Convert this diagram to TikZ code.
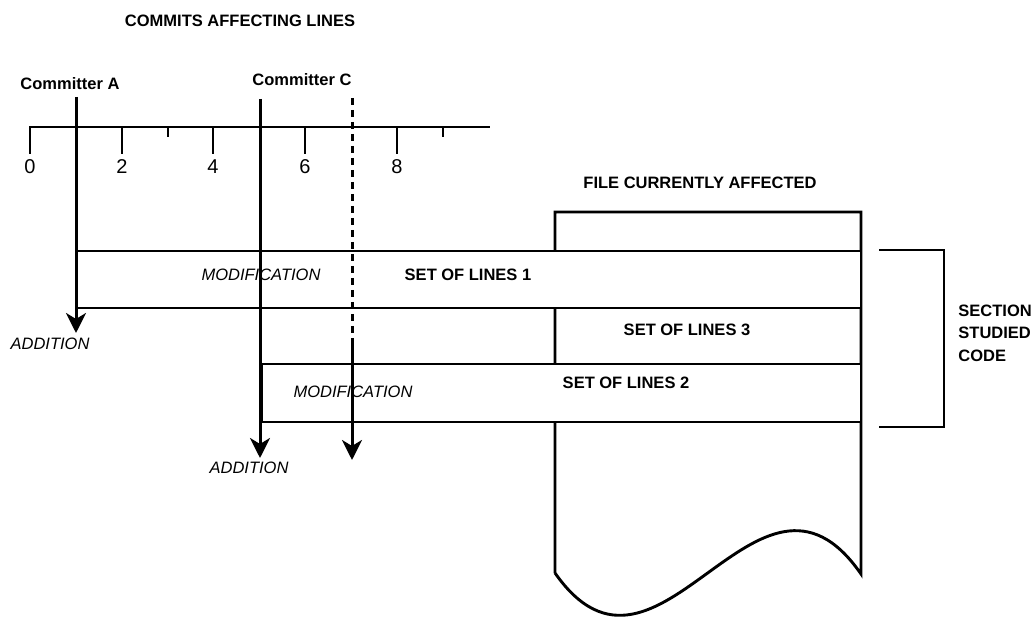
\documentclass[tikz,border=0pt]{standalone}
\usepackage{fontspec}
\setmainfont{Liberation Sans}
\usetikzlibrary{arrows.meta}

\tikzset{
  caps/.style={font=\bfseries\fontsize{16.5}{22.5}\selectfont, inner sep=0pt},
  note/.style={font=\itshape\fontsize{16.5}{20}\selectfont, inner sep=0pt},
  num/.style={font=\fontsize{20}{22}\selectfont, inner sep=0pt},
  commit/.style={line width=3pt, -{Stealth[length=20pt,width=20pt,inset=6pt]}}
}

\begin{document}
\begin{tikzpicture}[x=1pt, y=-1pt, line width=2.9pt]
    \useasboundingbox (0,0) rectangle (1034,617);

    % time axis
    \draw (30,154) -- (30,127) -- (490,127);
    \foreach \t in {122,213,305,397} \draw (\t,127) -- (\t,154);
    \foreach \t in {168,443} \draw (\t,127) -- (\t,137);
    \foreach \t/\v in {30/0,122/2,213/4,305/6,397/8}
        \node[num] (n\v) at (\t,167) {\v};

    % file and sets of lines
    \draw[fill=white] (555,573) -- (555,212) -- (861,212) -- (861,574)
        .. controls (758,425) and (658,720) .. (555,573);
    \draw[fill=white] (76,251) rectangle (861,308);
    \draw[fill=white] (262,364) rectangle (861,422);
    \draw (879,250) -- (944,250) -- (944,427) -- (879,427);

    \node[caps] (title) at (240,21) {COMMITS AFFECTING LINES};
    \node[caps] (ca) at (70,84) {Committer A};
    \node[caps] (cc) at (302,80) {Committer C};
    \node[caps] (file) at (700,183) {FILE CURRENTLY AFFECTED};
    \node[caps] (s1) at (468,275) {SET OF LINES 1};
    \node[caps] (s3) at (687,330) {SET OF LINES 3};
    \node[caps] (s2) at (626,383) {SET OF LINES 2};
    \node[caps, anchor=west, align=left] (sec) at (957,333) {SECTION\\STUDIED\\CODE};
    \node[note] (m1) at (261,275) {MODIFICATION};
    \node[note] (m2) at (353,392) {MODIFICATION};
    \node[note] (a1) at (50,344) {ADDITION};
    \node[note] (a2) at (249,468) {ADDITION};

    % commits
    \coordinate (aTop) at (76,97);
    \coordinate (aEnd) at (76,333);
    \coordinate (cTop) at (260,99);
    \coordinate (cEnd) at (260,458);
    \coordinate (dTop) at (352,98);
    \coordinate (dMid) at (352,340);
    \coordinate (dEnd) at (352,460);
    \draw[commit] (aTop) -- (aEnd);
    \draw[commit] (cTop) -- (cEnd);
    \draw[line width=3pt, dash pattern=on 7pt off 5pt] (dTop) -- (dMid);
    \draw[commit] (dMid) -- (dEnd);
\end{tikzpicture}
\end{document}
